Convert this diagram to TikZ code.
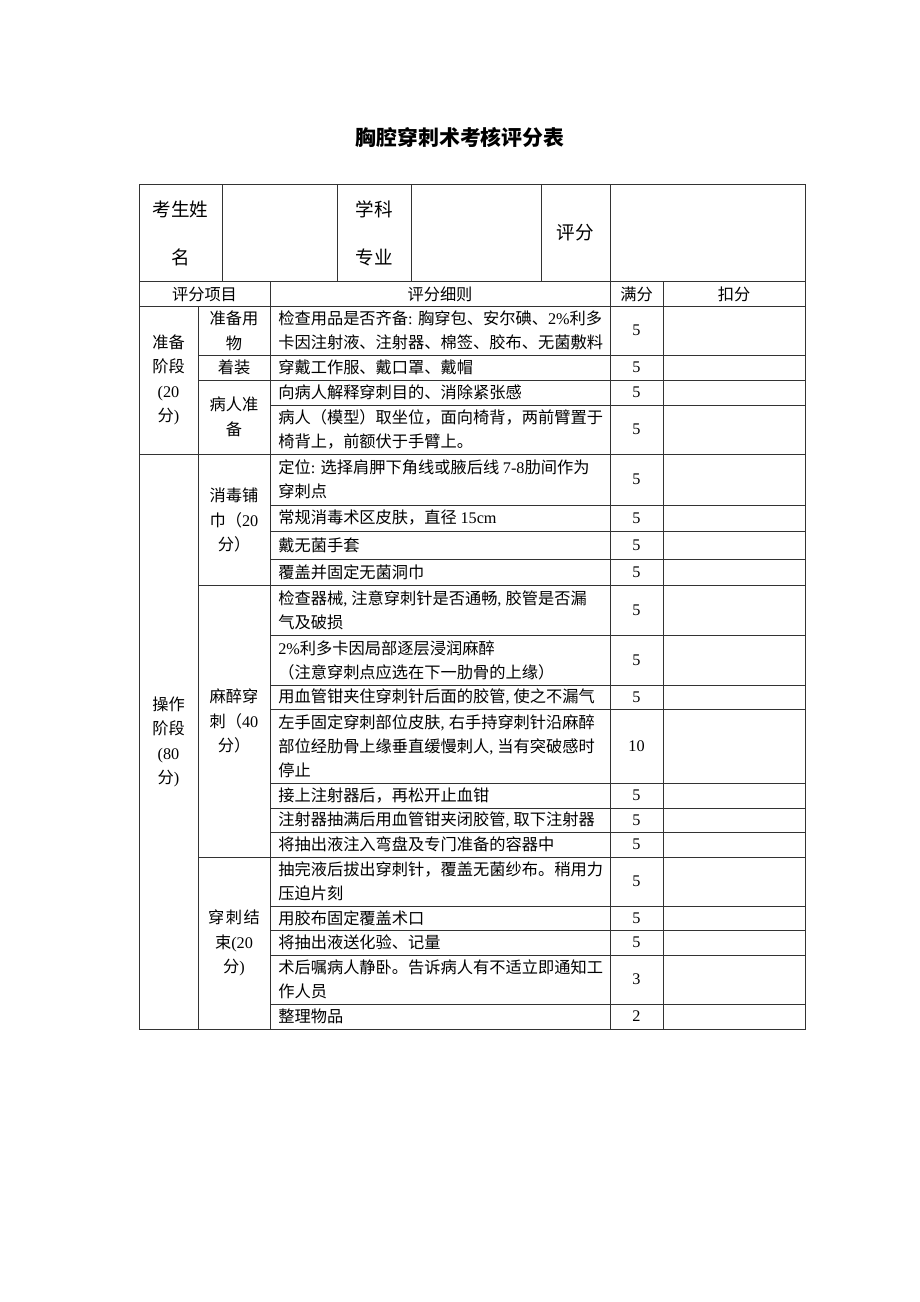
\documentclass[tikz,border=0pt]{standalone}
\usepackage{fontspec}
\setmainfont{Liberation Serif}
\newfontfamily\cjk{Noto Sans CJK SC}
\newcommand\lat[1]{{\rmfamily #1}}
\begin{document}
\begin{tikzpicture}[x=0.6467pt,y=-0.6467pt,
  grid/.style={line width=0.6pt, draw=black!80},
  cell/.style={inner sep=0pt, font=\cjk\fontsize{10.5}{15.6}\selectfont, align=left, anchor=west},
  ctr/.style={inner sep=0pt, font=\cjk\fontsize{10.5}{15.8}\selectfont, align=center},
  big/.style={inner sep=0pt, font=\cjk\fontsize{12}{31}\selectfont, align=center},
  num/.style={inner sep=0pt, font=\rmfamily\fontsize{10.5}{12}\selectfont},
]
\useasboundingbox (0,0) rectangle (920,1302);
\fill[white] (0,0) rectangle (920,1302);

% title
\node[inner sep=0pt, font=\cjk\bfseries\fontsize{13.5}{16}\selectfont] (title) at (460,137) {胸腔穿刺术考核评分表};

% ---------- grid ----------
\draw[grid] (139,184) rectangle (805,1029);
\foreach \x in {222,337,411,541} \draw[grid] (\x,184) -- (\x,281);
\draw[grid] (610,184) -- (610,1029);
\draw[grid] (139,281) -- (805,281);
\draw[grid] (139,306) -- (805,306);
\draw[grid] (270,281) -- (270,1029);
\draw[grid] (663,281) -- (663,1029);
\draw[grid] (198,306) -- (198,1029);
\draw[grid] (139,454) -- (805,454);
\foreach \y in {355,380,585,857} \draw[grid] (198,\y) -- (805,\y);
\foreach \y in {405,505,531,559,635,685,709,783,808,832,906,930,955,1004} \draw[grid] (270,\y) -- (805,\y);

% ---------- header ----------
\node[big] (h1) at (180.5,233) {考生姓\\名};
\node[big] (h2) at (374,233) {学科\\专业};
\node[big] (h3) at (575.5,233) {评分};
\node[ctr] (h4) at (204.5,294) {评分项目};
\node[ctr] (h5) at (440,294) {评分细则};
\node[ctr] (h6) at (636.5,294) {满分};
\node[ctr] (h7) at (734,294) {扣分};

% ---------- column 1 ----------
\node[ctr] (s1) at (168.5,380) {准备\\阶段\\\lat{(20}\\分\lat{)}};
\node[ctr] (s2) at (168.5,742) {操作\\阶段\\\lat{(80}\\分\lat{)}};

% ---------- column 2 ----------
\node[ctr] (c1) at (234,331) {准备用\\物};
\node[ctr] (c2) at (234,367.5) {着装};
\node[ctr] (c3) at (234,417) {病人准\\备};
\node[ctr] (c4) at (234,520) {消毒铺\\巾（\lat{20}\\分）};
\node[ctr] (c5) at (234,721) {麻醉穿\\刺（\lat{40}\\分）};
\node[ctr] (c6) at (234,943) {穿\hspace{1pt}刺\hspace{1pt}结\\束\lat{(20}\\分\lat{)}};

% ---------- column 3 : details ----------
\node[cell] (r1) at (278,330.5) {检查用品是否齐备\lat{: }胸穿包、安尔碘、\lat{2\%}利多\\卡因注射液、注射器、棉签、胶布、无菌敷料};
\node[cell] (r2) at (278,367.5) {穿戴工作服、戴口罩、戴帽};
\node[cell] (r3) at (278,392.5) {向病人解释穿刺目的、消除紧张感};
\node[cell] (r4) at (278,429.5) {病人（模型）取坐位，面向椅背，两前臂置于\\椅背上，前额伏于手臂上。};
\node[cell] (r5) at (278,479.5) {定位\lat{: }选择肩胛下角线或腋后线 \lat{7-8}肋间作为\\穿刺点};
\node[cell] (r6) at (278,518) {常规消毒术区皮肤，直径 \lat{15cm}};
\node[cell] (r7) at (278,545) {戴无菌手套};
\node[cell] (r8) at (278,572) {覆盖并固定无菌洞巾};
\node[cell] (r9) at (278,610) {检查器械\lat{, }注意穿刺针是否通畅\lat{, }胶管是否漏\\气及破损};
\node[cell] (r10) at (278,660) {\lat{2\%}利多卡因局部逐层浸润麻醉\\（注意穿刺点应选在下一肋骨的上缘）};
\node[cell] (r11) at (278,697) {用血管钳夹住穿刺针后面的胶管\lat{, }使之不漏气};
\node[cell] (r12) at (278,746) {左手固定穿刺部位皮肤\lat{, }右手持穿刺针沿麻醉\\部位经肋骨上缘垂直缓慢刺人\lat{, }当有突破感时\\停止};
\node[cell] (r13) at (278,795.5) {接上注射器后，再松开止血钳};
\node[cell] (r14) at (278,820) {注射器抽满后用血管钳夹闭胶管\lat{, }取下注射器};
\node[cell] (r15) at (278,844.5) {将抽出液注入弯盘及专门准备的容器中};
\node[cell] (r16) at (278,881.5) {抽完液后拔出穿刺针，覆盖无菌纱布。稍用力\\压迫片刻};
\node[cell] (r17) at (278,918) {用胶布固定覆盖术口};
\node[cell] (r18) at (278,942.5) {将抽出液送化验、记量};
\node[cell] (r19) at (278,979.5) {术后嘱病人静卧。告诉病人有不适立即通知工\\作人员};
\node[cell] (r20) at (278,1016.5) {整理物品};

% ---------- scores ----------
\foreach \y/\v [count=\i] in {330.5/5,367.5/5,392.5/5,429.5/5,479.5/5,518/5,545/5,572/5,610/5,660/5,697/5,746/10,795.5/5,820/5,844.5/5,881.5/5,918/5,942.5/5,979.5/3,1016.5/2}
  \node[num] (p\i) at (636.5,\y) {\v};
\end{tikzpicture}
\end{document}
